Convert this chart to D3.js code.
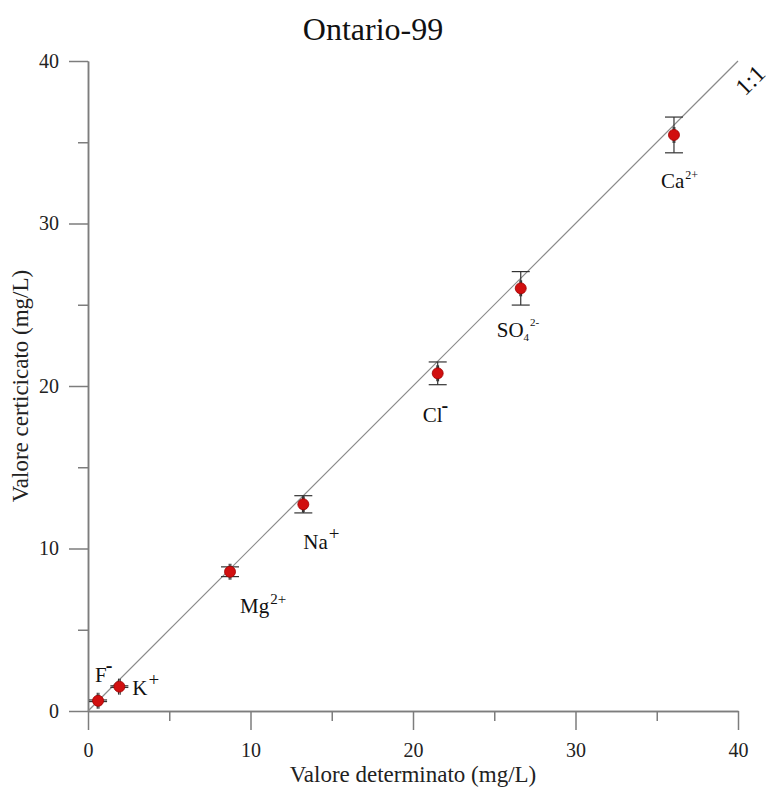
<!DOCTYPE html>
<html>
<head>
<meta charset="utf-8">
<script src="https://cdn.jsdelivr.net/npm/d3@7"></script>
<style>
  html, body { margin: 0; padding: 0; background: #fff; }
  svg { display: block; font-family: "Liberation Serif", "Times New Roman", serif; }
</style>
</head>
<body>
<svg id="chart" width="769" height="787"></svg>
<script>
// Ions measured in the Ontario-99 reference water
const ions        = ["F", "K", "Mg", "Na", "Cl", "SO4", "Ca"];
const determined  = [0.62, 1.93, 8.74, 13.25, 21.52, 26.63, 36.06];   // mg/L, x
const certified   = [0.63, 1.50, 8.57, 12.72, 20.78, 26.01, 35.45];   // mg/L, y
const certErr     = [0.05, 0.05, 0.30, 0.53, 0.70, 1.03, 1.10];       // y uncertainty
const detErr      = [0.05, 0.05, 0.05, 0.05, 0.05, 0.05, 0.05];       // x uncertainty
const majorTicks  = [0, 10, 20, 30, 40];
const minorTicks  = [5, 15, 25, 35];
const domainMax   = 40;

// label parts: base text, subscript, superscript
const labelBase   = ["F", "K", "Mg", "Na", "Cl", "SO", "Ca"];
const labelSub    = ["", "", "", "", "", "4", ""];
const labelSup    = ["-", "+", "2+", "+", "-", "2-", "2+"];

const svg = d3.select("#chart");
const x = d3.scaleLinear().domain([0, domainMax]).range([88, 738]);
const y = d3.scaleLinear().domain([0, domainMax]).range([711, 61]);

const axisColor = "#7d7d7d";
const serif = "Liberation Serif, Times New Roman, serif";

// Title
svg.append("text")
  .attr("x", 373).attr("y", 40)
  .attr("text-anchor", "middle")
  .attr("font-size", 32)
  .attr("fill", "#111")
  .text("Ontario-99");

// Axes: major ticks with labels, minor ticks without
function styleAxis(g) {
  g.attr("font-family", serif);
  g.selectAll("path.domain").attr("stroke", axisColor).attr("stroke-width", 1.5);
  g.selectAll(".tick line").attr("stroke", axisColor).attr("stroke-width", 1.5);
  g.selectAll(".tick text").attr("fill", "#222").attr("font-size", 20);
}

svg.append("g")
  .attr("transform", `translate(0,${y(0)})`)
  .call(d3.axisBottom(x).tickValues(majorTicks).tickSize(19).tickSizeOuter(0).tickPadding(13).tickFormat(d3.format("d")))
  .call(styleAxis);
svg.append("g")
  .attr("transform", `translate(0,${y(0)})`)
  .call(d3.axisBottom(x).tickValues(minorTicks).tickSize(10).tickSizeOuter(0).tickFormat(""))
  .call(styleAxis);

svg.append("g")
  .attr("transform", `translate(${x(0)},0)`)
  .call(d3.axisLeft(y).tickValues(majorTicks).tickSize(19).tickSizeOuter(0).tickPadding(10).tickFormat(d3.format("d")))
  .call(styleAxis);
svg.append("g")
  .attr("transform", `translate(${x(0)},0)`)
  .call(d3.axisLeft(y).tickValues(minorTicks).tickSize(10).tickSizeOuter(0).tickFormat(""))
  .call(styleAxis);

// Axis titles
svg.append("text")
  .attr("x", 413).attr("y", 782)
  .attr("text-anchor", "middle")
  .attr("font-size", 23)
  .attr("fill", "#222")
  .text("Valore determinato (mg/L)");

svg.append("text")
  .attr("transform", `translate(28,${(y(0) + y(domainMax)) / 2}) rotate(-90)`)
  .attr("text-anchor", "middle")
  .attr("font-size", 23)
  .attr("fill", "#222")
  .text("Valore certicicato (mg/L)");

// 1:1 reference line
svg.append("line")
  .attr("x1", x(0)).attr("y1", y(0))
  .attr("x2", x(domainMax)).attr("y2", y(domainMax))
  .attr("stroke", "#8a8a8a").attr("stroke-width", 1.2);

svg.append("text")
  .attr("transform", `translate(${x(domainMax) + 14},${y(domainMax) + 21}) rotate(-45)`)
  .attr("text-anchor", "middle")
  .attr("dominant-baseline", "middle")
  .attr("font-size", 24)
  .attr("fill", "#111")
  .text("1:1");

const data = ions.map((id, i) => ({
  id, dx: determined[i], cy: certified[i], ey: certErr[i], ex: detErr[i],
  base: labelBase[i], sub: labelSub[i], sup: labelSup[i]
}));

// Error bars
const cap = 9;
const eb = svg.append("g").attr("stroke", "#333").attr("stroke-width", 1.2).attr("fill", "none");
data.forEach(d => {
  const cx = x(d.dx), cyp = y(d.cy);
  const top = y(d.cy + d.ey), bot = y(d.cy - d.ey);
  eb.append("line").attr("x1", cx).attr("x2", cx).attr("y1", top).attr("y2", bot);
  eb.append("line").attr("x1", cx - cap).attr("x2", cx + cap).attr("y1", top).attr("y2", top);
  eb.append("line").attr("x1", cx - cap).attr("x2", cx + cap).attr("y1", bot).attr("y2", bot);
  const left = x(d.dx - d.ex), right = x(d.dx + d.ex);
  eb.append("line").attr("x1", left).attr("x2", right).attr("y1", cyp).attr("y2", cyp);
  eb.append("line").attr("x1", left).attr("x2", left).attr("y1", cyp - cap + 1).attr("y2", cyp + cap - 1);
  eb.append("line").attr("x1", right).attr("x2", right).attr("y1", cyp - cap + 1).attr("y2", cyp + cap - 1);
});

// Points
svg.append("g").selectAll("circle")
  .data(data).join("circle")
  .attr("cx", d => x(d.dx)).attr("cy", d => y(d.cy))
  .attr("r", 5.5)
  .attr("fill", "#d10f0f")
  .attr("stroke", "#9e0000").attr("stroke-width", 0.8);

// Ion labels (offsets relative to each point)
const labelOffset = {
  F:  [-3, -19], K: [13, 8], Mg: [10, 41], Na: [0, 45],
  Cl: [-15, 49], SO4: [-24, 49], Ca: [-13, 53]
};
const supSize = { F: 20, K: 19, Mg: 15, Na: 19, Cl: 20, SO4: 11, Ca: 12 };
const supRise = { F: 10, K: 9, Mg: 9, Na: 9, Cl: 10, SO4: 11, Ca: 9 };

const lab = svg.append("g").attr("fill", "#111").attr("font-size", 21);
data.forEach(d => {
  const [ox, oy] = labelOffset[d.id];
  const t = lab.append("text").attr("x", x(d.dx) + ox).attr("y", y(d.cy) + oy);
  t.append("tspan").text(d.base);
  if (d.sub) {
    t.append("tspan").attr("font-size", 11).attr("dy", 4).text(d.sub);
    t.append("tspan").attr("font-size", supSize[d.id]).attr("dy", -4 - supRise[d.id]).attr("dx", 1).text(d.sup);
  } else if (d.sup === "-") {
    t.append("tspan").attr("font-size", supSize[d.id]).attr("font-weight", "bold")
      .attr("dy", -supRise[d.id]).attr("dx", -1).text("-");
  } else {
    t.append("tspan").attr("font-size", supSize[d.id]).attr("dy", -supRise[d.id]).attr("dx", 1).text(d.sup);
  }
});
</script>
</body>
</html>
